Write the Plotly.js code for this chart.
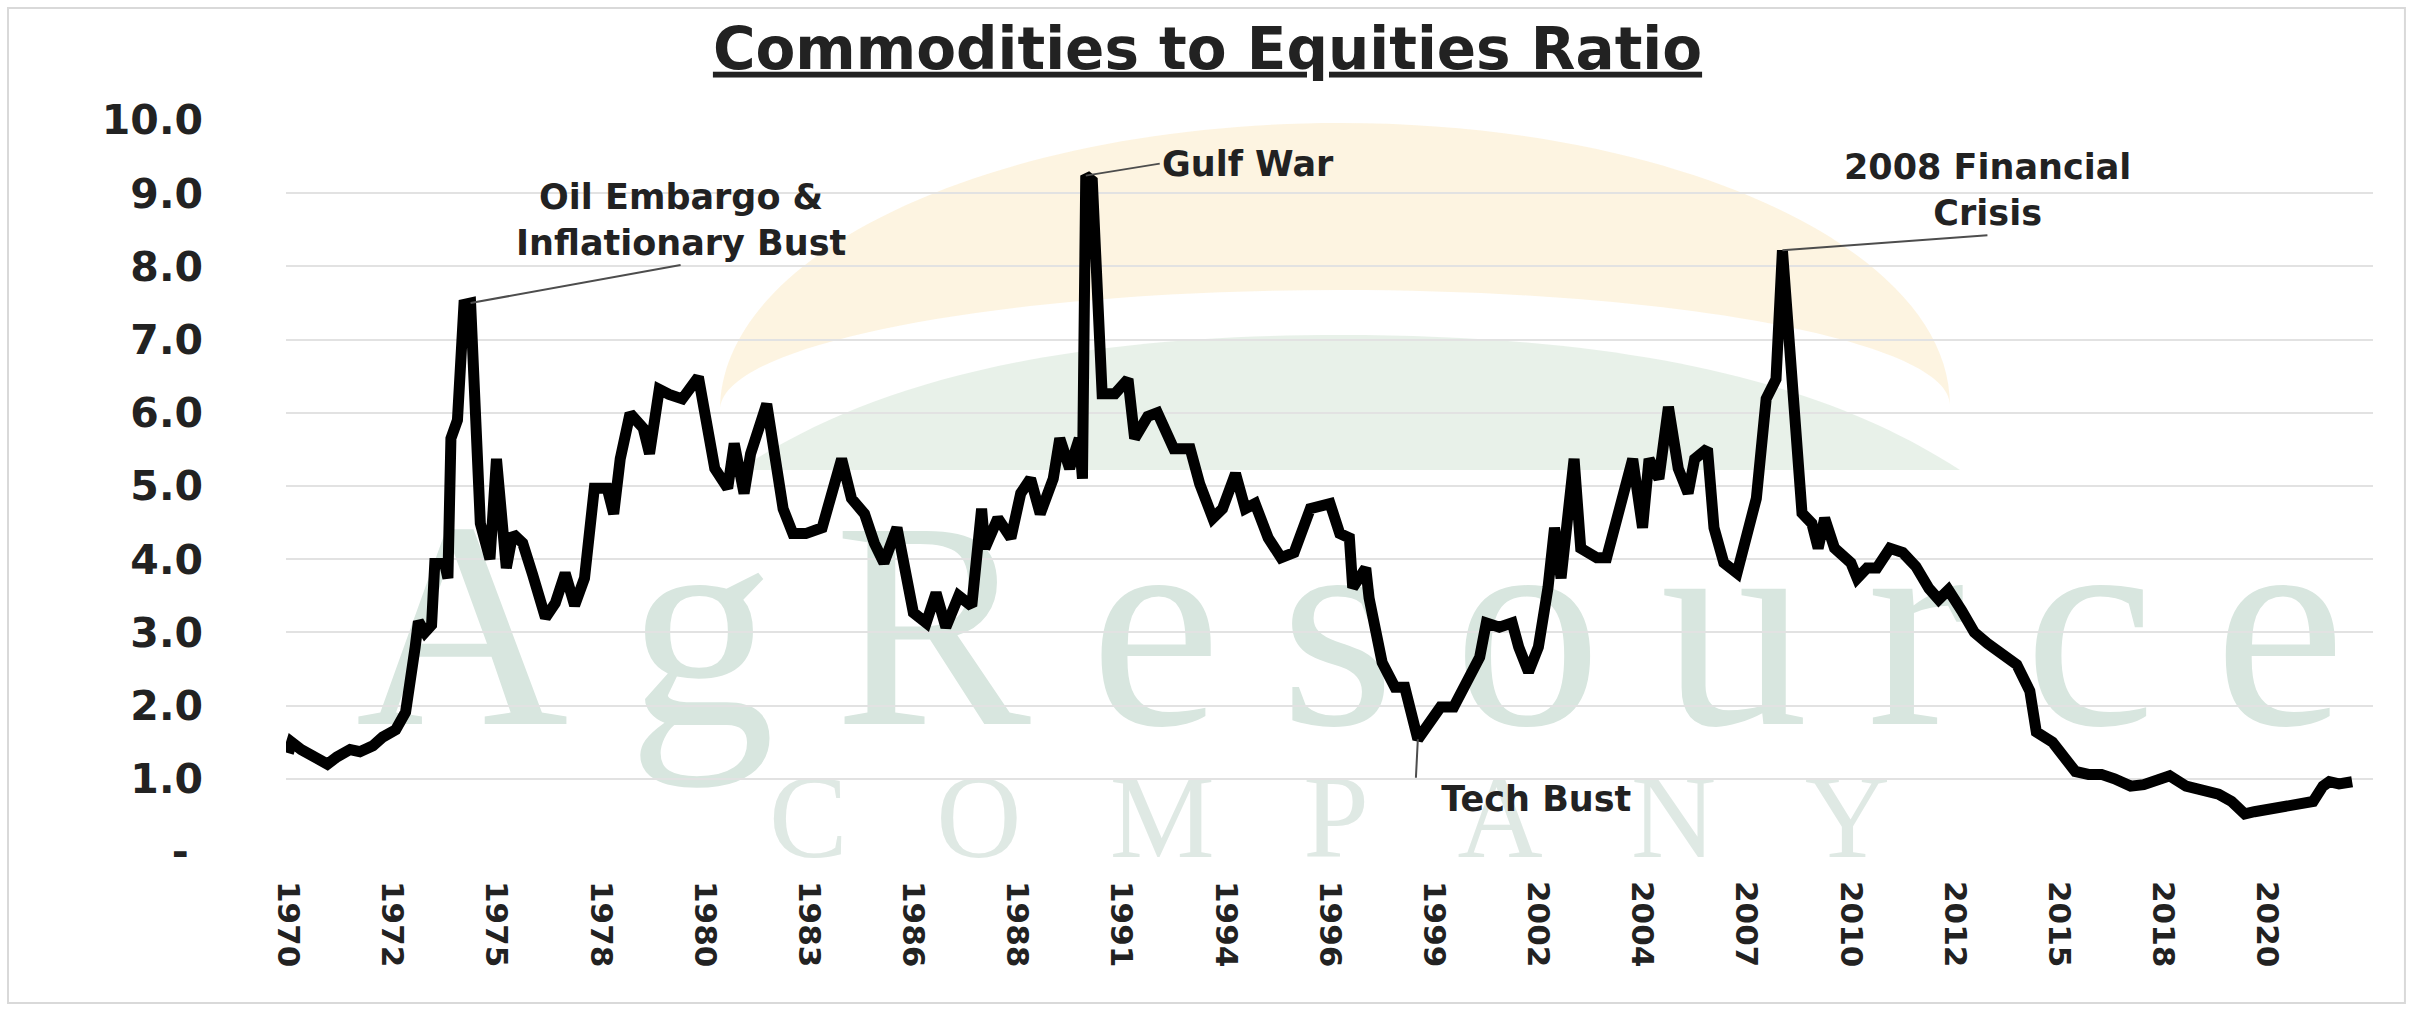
<!DOCTYPE html>
<html>
<head>
<meta charset="utf-8">
<script src="https://cdn.plot.ly/plotly-3.0.1.min.js"></script>
<style>
  html, body { margin: 0; padding: 0; background: #ffffff; }
  #chart { width: 2415px; height: 1009px; }
</style>
</head>
<body>
<div id="chart"></div>
<script>
// ---------------- DATA ----------------
const dates = [
  "1970-01","1970-02","1970-05","1970-09","1971-01","1971-04","1971-08","1971-11",
  "1972-03","1972-06","1972-10","1973-01","1973-03","1973-04","1973-05","1973-07",
  "1973-09","1973-10","1974-01","1974-02","1974-03","1974-05","1974-07","1974-09",
  "1974-12","1975-03","1975-05","1975-08","1975-10","1976-01","1976-04","1976-08",
  "1976-11","1977-02","1977-05","1977-08","1977-11","1978-03","1978-05","1978-07",
  "1978-10","1979-02","1979-04","1979-07","1979-10","1980-02","1980-07","1980-12",
  "1981-04","1981-06","1981-09","1981-11","1982-04","1982-09","1982-12","1983-04",
  "1983-09","1984-03","1984-06","1984-10","1985-01","1985-04","1985-08","1985-10",
  "1986-01","1986-05","1986-08","1986-11","1987-03","1987-07","1987-10","1987-11",
  "1988-03","1988-07","1988-10","1989-01","1989-04","1989-08","1989-10","1990-01",
  "1990-04","1990-05","1990-06","1990-08","1990-10","1990-11","1991-03","1991-07",
  "1991-09","1992-01","1992-04","1992-06","1992-09","1993-02","1993-05","1993-09",
  "1993-12","1994-04","1994-07","1994-10","1995-02","1995-06","1995-10","1996-03",
  "1996-09","1996-12","1997-03","1997-04","1997-08","1997-09","1998-01","1998-05",
  "1998-08","1998-12","1999-03","1999-07","1999-11","2000-03","2000-07","2000-09",
  "2001-01","2001-05","2001-07","2001-10","2002-01","2002-04","2002-06","2002-08",
  "2002-10","2002-12","2003-02","2003-07","2003-10","2004-01","2004-04","2004-06",
  "2004-09","2004-11","2005-02","2005-05","2005-08","2005-11","2006-01","2006-05",
  "2006-07","2006-10","2007-02","2007-05","2007-08","2007-11","2008-02","2008-04",
  "2008-07","2008-10","2009-01","2009-03","2009-05","2009-08","2010-01","2010-03",
  "2010-06","2010-09","2011-01","2011-05","2011-09","2012-01","2012-04","2012-07",
  "2012-11","2013-03","2013-07","2013-11","2014-04","2014-08","2014-10","2015-03",
  "2015-06","2015-10","2016-02","2016-06","2016-10","2017-03","2017-07","2017-10",
  "2018-03","2018-08","2019-01","2019-06","2019-10","2020-02","2020-05","2020-10",
  "2021-03","2021-08","2021-11","2022-02","2022-04","2022-07","2022-11"
];
const ratio = [
  1.35,1.50,1.40,1.30,1.20,1.30,1.40,1.37,
  1.45,1.57,1.67,1.91,2.40,2.80,3.15,3.00,
  3.10,3.94,3.94,3.74,5.65,5.90,7.48,7.50,
  4.49,4.00,5.37,3.88,4.35,4.22,3.80,3.20,
  3.40,3.81,3.37,3.74,4.97,4.97,4.62,5.37,
  5.99,5.79,5.44,6.32,6.25,6.19,6.49,5.24,
  4.97,5.58,4.90,5.44,6.12,4.69,4.35,4.35,
  4.43,5.37,4.83,4.62,4.22,3.95,4.43,3.88,
  3.27,3.13,3.54,3.07,3.50,3.36,4.69,4.15,
  4.56,4.29,4.90,5.10,4.62,5.10,5.65,5.24,
  5.65,5.10,9.24,9.17,7.41,6.26,6.26,6.46,
  5.65,5.95,6.00,5.80,5.51,5.51,5.03,4.56,
  4.69,5.17,4.69,4.76,4.29,4.02,4.09,4.69,
  4.76,4.35,4.29,3.61,3.88,3.47,2.59,2.25,
  2.25,1.54,1.71,1.98,1.98,2.32,2.66,3.13,
  3.07,3.13,2.80,2.46,2.80,3.61,4.43,3.74,
  4.43,5.37,4.15,4.02,4.02,4.56,5.10,5.37,
  4.43,5.37,5.10,6.08,5.24,4.90,5.37,5.51,
  4.43,3.95,3.81,4.29,4.83,6.19,6.46,8.22,
  6.46,4.63,4.49,4.15,4.56,4.15,3.95,3.74,
  3.88,3.88,4.15,4.09,3.90,3.60,3.45,3.58,
  3.30,3.00,2.85,2.70,2.56,2.20,1.64,1.50,
  1.33,1.10,1.06,1.06,1.00,0.90,0.92,0.96,
  1.04,0.90,0.86,0.79,0.69,0.52,0.55,0.59,
  0.62,0.66,0.69,0.90,0.96,0.93,0.96
];
const tickDates = [
  "1970-01-01","1972-09-01","1975-05-01","1978-01-01","1980-09-01","1983-05-01",
  "1986-01-01","1988-09-01","1991-05-01","1994-01-01","1996-09-01","1999-05-01",
  "2002-01-01","2004-09-01","2007-05-01","2010-01-01","2012-09-01","2015-05-01",
  "2018-01-01","2020-09-01"
];
const tickYears = [
  "1970","1972","1975","1978","1980","1983","1986","1988","1991","1994",
  "1996","1999","2002","2004","2007","2010","2012","2015","2018","2020"
];
const yTickVals = [0,1,2,3,4,5,6,7,8,9,10];
const yTickText = ["-\u00a0","1.0","2.0","3.0","4.0","5.0","6.0","7.0","8.0","9.0","10.0"];
const chartTitle = "Commodities to Equities Ratio";
const eventLabels = {
  oil: "Oil Embargo &amp;<br>Inflationary Bust",
  gulf: "Gulf War",
  crisis: "2008 Financial<br>Crisis",
  tech: "\u00a0\u00a0Tech Bust"
};
const brandWord = "AgResource";
const brandSub = "COMPANY";

// ---------------- HELPERS ----------------
function extremeIndex(from, to, wantMax) {
  let best = -1;
  for (let i = 0; i < dates.length; i++) {
    if (dates[i] >= from && dates[i] <= to) {
      if (best < 0 || (wantMax ? ratio[i] > ratio[best] : ratio[i] < ratio[best])) best = i;
    }
  }
  return best;
}
const iOil = extremeIndex("1974-01", "1975-12", true);
const iGulf = extremeIndex("1990-01", "1991-12", true);
const iCrisis = extremeIndex("2007-01", "2009-12", true);
const iTech = extremeIndex("1997-01", "2001-12", false);

const FONT = "DejaVu Sans, Open Sans, sans-serif";
const SERIF = "Liberation Serif, DejaVu Serif, serif";
const TXT = "#222222";
const LEAD = "#4d4d4d";

function eventAnn(i, text, ax, ay, xanchor, yanchor) {
  return {
    x: dates[i], y: ratio[i], xref: "x", yref: "y",
    text: text, showarrow: true, arrowhead: 0, arrowwidth: 2,
    arrowcolor: LEAD, ax: ax, ay: ay, xanchor: xanchor, yanchor: yanchor,
    align: "center",
    font: { family: FONT, size: 35, color: TXT, weight: "bold" }
  };
}
function spaced(word, gap) { return word.split("").join(gap); }

// ---------------- DECORATION (watermark) ----------------
const watermarkShapes = [
  // frame
  { type: "rect", xref: "paper", yref: "paper", x0: -0.1332, x1: 1.0153, y0: -0.2063, y1: 1.1530,
    line: { color: "#d9d9d9", width: 2 }, fillcolor: "rgba(0,0,0,0)", layer: "below" },
  // sun arc (pale yellow crescent)
  { type: "path", xref: "paper", yref: "paper", layer: "below",
    path: "M 0.2080 0.6038 C 0.2080 0.8204 0.3410 0.9959 0.5050 0.9959 " +
          "C 0.6664 0.9959 0.7973 0.8234 0.7973 0.6107 " +
          "C 0.7973 0.6975 0.6664 0.7678 0.5050 0.7678 " +
          "C 0.3410 0.7678 0.2080 0.6944 0.2080 0.6038 Z",
    fillcolor: "rgba(252,236,205,0.6)", line: { width: 0 } },
  // field arc (pale green dome)
  { type: "path", xref: "paper", yref: "paper", layer: "below",
    path: "M 0.2171 0.5219 C 0.2747 0.6325 0.3610 0.7063 0.5050 0.7063 " +
          "C 0.6536 0.7063 0.7427 0.6325 0.8021 0.5219 Z",
    fillcolor: "rgba(220,234,221,0.65)", line: { width: 0 } },
  // AgResource word
  { type: "rect", xref: "paper", yref: "paper", layer: "below",
    x0: 0.02, x1: 1.0, y0: 0.164, y1: 0.544,
    line: { width: 0 }, fillcolor: "rgba(0,0,0,0)",
    label: { text: spaced(brandWord, "\u2009"), textposition: "middle center",
             font: { family: SERIF, size: 295, color: "#d8e6df" } } },
  // COMPANY word
  { type: "rect", xref: "paper", yref: "paper", layer: "below",
    x0: 0.15, x1: 0.85, y0: -0.045, y1: 0.175,
    line: { width: 0 }, fillcolor: "rgba(0,0,0,0)",
    label: { text: spaced(brandSub, "\u00a0\u00a0\u00a0"), textposition: "middle center",
             font: { family: SERIF, size: 118, color: "#dfe9e4" } } }
];

// ---------------- CHART ----------------
const trace = {
  type: "scatter", mode: "lines",
  x: dates, y: ratio,
  line: { color: "#000000", width: 11 },
  hoverinfo: "x+y"
};

const layout = {
  width: 2415, height: 1009,
  margin: { l: 286, r: 42, t: 120, b: 157 },
  paper_bgcolor: "#ffffff", plot_bgcolor: "rgba(0,0,0,0)",
  showlegend: false,
  title: {
    text: "<u>" + chartTitle + "</u>",
    xref: "container", x: 0.5, xanchor: "center",
    yref: "container", y: 0.952, yanchor: "middle",
    font: { family: FONT, size: 58, color: TXT, weight: "bold" }
  },
  xaxis: {
    type: "date",
    range: ["1969-12-10", "2023-05-15"],
    tickmode: "array", tickvals: tickDates, ticktext: tickYears,
    tickangle: 90, ticks: "", showgrid: false, zeroline: false, showline: false,
    ticklabelstandoff: 28,
    tickfont: { family: FONT, size: 31, color: TXT, weight: "bold" }
  },
  yaxis: {
    range: [0, 10],
    tickmode: "array", tickvals: yTickVals, ticktext: yTickText,
    ticks: "", showgrid: true, gridcolor: "#e2e2e2", gridwidth: 2,
    zeroline: false, showline: false,
    ticklabelstandoff: 82,
    tickfont: { family: FONT, size: 41, color: TXT, weight: "bold" }
  },
  shapes: watermarkShapes,
  annotations: [
    eventAnn(iOil, eventLabels.oil, 210, -38, "center", "bottom"),
    eventAnn(iGulf, eventLabels.gulf, 74, -12, "left", "middle"),
    eventAnn(iCrisis, eventLabels.crisis, 205, -15, "center", "bottom"),
    eventAnn(iTech, eventLabels.tech, -3, 60, "left", "middle")
  ]
};

Plotly.newPlot("chart", [trace], layout, { displayModeBar: false, staticPlot: true });
</script>
</body>
</html>
